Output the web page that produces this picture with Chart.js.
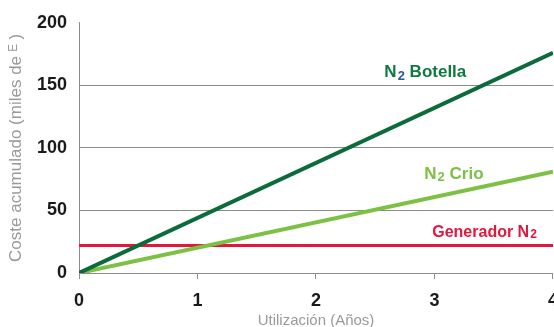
<!DOCTYPE html>
<html>
<head>
<meta charset="utf-8">
<script src="https://cdn.jsdelivr.net/npm/chart.js@4"></script>
<style>
  html, body { margin: 0; padding: 0; background: #fff; overflow: hidden; }
  #wrap { position: relative; width: 569px; height: 327px; }
</style>
</head>
<body>
<div id="wrap"><canvas id="c"></canvas></div>
<script>
// Years of use
const years = [0, 4];
// Accumulated cost (thousands)
const botella = [0, 176];
const crio = [0, 81];
const generador = [22, 22];
const yTicks = [0, 50, 100, 150, 200];
const xTicks = [0, 1, 2, 3, 4];

const series = [
  { name: 'N2 Botella', values: botella, color: '#0c6b3a', width: 4 },
  { name: 'N2 Crio', values: crio, color: '#7cc143', width: 4 },
  { name: 'Generador N2', values: generador, color: '#e3173e', width: 3 }
];

// Inline labels placed in data coordinates
const labels = [
  { x: 2.577, y: 160.5, color: '#0f7a3e', subColor: '#2456a6', pre: 'N', sub: '2', post: ' Botella', size: 17, subDrop: 0.22 },
  { x: 2.914, y: 79, color: '#7cc143', subColor: '#7cc143', pre: 'N', sub: '2', post: ' Crio', size: 17, subDrop: 0.22 },
  { x: 2.981, y: 32.4, color: '#e3173e', subColor: '#e3173e', pre: 'Generador N', sub: '2', post: '', size: 16, subDrop: 0.12 }
];

const inlineLabels = {
  id: 'inlineLabels',
  afterDatasetsDraw(chart) {
    const { ctx, scales } = chart;
    ctx.save();
    ctx.textBaseline = 'middle';
    labels.forEach(l => {
      let px = scales.x.getPixelForValue(l.x);
      const py = scales.y.getPixelForValue(l.y);
      const font = `bold ${l.size}px "Liberation Sans", Arial, sans-serif`;
      const subFont = `bold ${Math.round(l.size * 0.75)}px "Liberation Sans", Arial, sans-serif`;
      ctx.font = font; ctx.fillStyle = l.color;
      ctx.fillText(l.pre, px, py);
      px += ctx.measureText(l.pre).width + 1;
      ctx.font = subFont; ctx.fillStyle = l.subColor;
      ctx.fillText(l.sub, px, py + l.size * l.subDrop);
      px += ctx.measureText(l.sub).width;
      if (l.post) {
        ctx.font = font; ctx.fillStyle = l.color;
        ctx.fillText(l.post, px, py);
      }
    });
    ctx.restore();
  }
};

new Chart(document.getElementById('c'), {
  type: 'line',
  data: {
    datasets: series.map(s => ({
      label: s.name,
      data: years.map((x, i) => ({ x, y: s.values[i] })),
      borderColor: s.color,
      borderWidth: s.width,
      pointRadius: 0,
      tension: 0,
      fill: false
    }))
  },
  options: {
    responsive: true,
    maintainAspectRatio: false,
    animation: false,
    events: [],
    layout: { padding: { top: 20, right: 0, left: 0, bottom: 0 } },
    plugins: { legend: { display: false }, tooltip: { enabled: false } },
    scales: {
      x: {
        type: 'linear',
        min: xTicks[0],
        max: xTicks[xTicks.length - 1],
        afterBuildTicks(scale) { scale.ticks = xTicks.map(v => ({ value: v })); },
        afterFit(scale) { scale.height = 54; },
        border: { color: '#8c8c8c', width: 1 },
        grid: { drawOnChartArea: false, drawTicks: true, tickLength: 6, color: '#8c8c8c' },
        ticks: {
          padding: 11,
          color: '#1a1a1a',
          font: { family: '"Liberation Sans", Arial, sans-serif', size: 18, weight: 'bold' },
          maxRotation: 0
        },
        title: {
          display: true,
          text: 'Utilización (Años)',
          color: '#9a9a9a',
          font: { family: '"Liberation Sans", Arial, sans-serif', size: 15 },
          padding: { top: 0, bottom: -3 }
        }
      },
      y: {
        min: yTicks[0],
        max: yTicks[yTicks.length - 1],
        afterBuildTicks(scale) { scale.ticks = yTicks.map(v => ({ value: v })); },
        afterFit(scale) { scale.width = 79; },
        border: { color: '#8c8c8c', width: 1 },
        grid: {
          drawTicks: false,
          color: ctx => (ctx.tick && (ctx.tick.value === 200 || ctx.tick.value === 0)) ? 'rgba(0,0,0,0)' : '#8c8c8c',
          lineWidth: 1
        },
        ticks: {
          padding: 12,
          color: '#1a1a1a',
          font: { family: '"Liberation Sans", Arial, sans-serif', size: 18, weight: 'bold' }
        },
        title: {
          display: true,
          text: 'Coste acumulado (miles de ᴱ )',
          color: '#9a9a9a',
          font: { family: '"Liberation Sans", Arial, sans-serif', size: 17 },
          padding: { top: 6, bottom: 0 }
        }
      }
    }
  },
  plugins: [inlineLabels]
});
</script>
</body>
</html>
